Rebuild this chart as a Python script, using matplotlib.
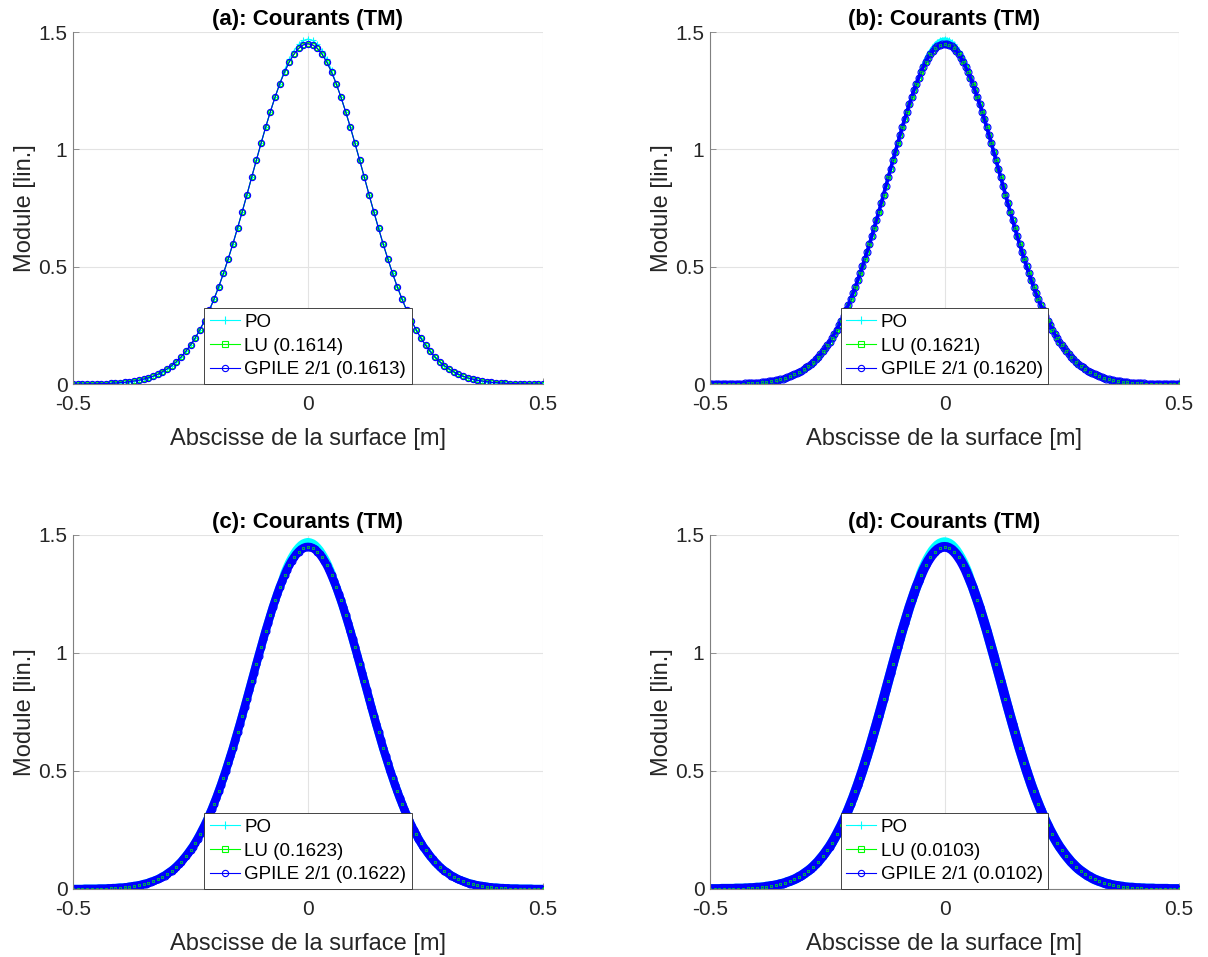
import numpy as np
import matplotlib.pyplot as plt
from matplotlib.lines import Line2D

plt.rcParams['font.family'] = ['Liberation Sans', 'DejaVu Sans']

# demi-profil du module (x = 0 .. 0.5 m, pas 0.005)
sol_half = [1.450, 1.449, 1.445, 1.439, 1.430, 1.419, 1.405, 1.390, 1.372, 1.352,
            1.329, 1.305, 1.280, 1.252, 1.223, 1.193, 1.161, 1.128, 1.095, 1.060,
            1.025, 0.989, 0.953, 0.916, 0.880, 0.843, 0.806, 0.770, 0.734, 0.699,
            0.664, 0.630, 0.596, 0.564, 0.532, 0.501, 0.471, 0.442, 0.414, 0.387,
            0.362, 0.337, 0.314, 0.291, 0.270, 0.250, 0.231, 0.213, 0.196, 0.180,
            0.166, 0.152, 0.139, 0.127, 0.115, 0.105, 0.095, 0.086, 0.078, 0.071,
            0.064, 0.057, 0.052, 0.046, 0.041, 0.037, 0.033, 0.030, 0.026, 0.023,
            0.021, 0.018, 0.016, 0.014, 0.013, 0.011, 0.010, 0.008, 0.007, 0.006,
            0.006, 0.005, 0.004, 0.004, 0.003, 0.003, 0.002, 0.002, 0.002, 0.002,
            0.001, 0.001, 0.001, 0.001, 0.001, 0.001, 0.000, 0.000, 0.000, 0.000, 0.000]
# PO un peu plus haut au sommet
po_top = [1.470, 1.468, 1.464, 1.457, 1.447, 1.435, 1.420, 1.403, 1.384, 1.362, 1.338]
po_half = po_top + sol_half[len(po_top):]

titres = ['(a): Courants (TM)', '(b): Courants (TM)', '(c): Courants (TM)', '(d): Courants (TM)']
err_lu = ['0.1614', '0.1621', '0.1623', '0.0103']
err_gp = ['0.1613', '0.1620', '0.1622', '0.0102']
pas = [2, 1, 1, 1]             # (a) moins de points
epais = [0.0, 2.5, 6.0, 7.0]   # bande pleine pour les maillages fins
taille_o = [4.5, 5.0, 5.0, 5.0]

x_all = np.linspace(-0.5, 0.5, 2 * len(sol_half) - 1)
po_all = np.array(po_half[::-1] + po_half[1:])
sol_all = np.array(sol_half[::-1] + sol_half[1:])

fig = plt.figure(figsize=(12.08, 9.57), dpi=100)
W, H = 1208, 957
boites = [(73, 32, 543, 384), (710, 32, 1179, 384),
          (73, 535, 543, 889), (710, 535, 1179, 889)]
txt = '#262626'
cyan, vert, bleu = '#00ffff', '#00ff00', '#0000ff'

for i, (l, t, r, b) in enumerate(boites):
    ax = fig.add_axes([l / W, 1 - b / H, (r - l) / W, (b - t) / H])
    s = pas[i]
    x = x_all[::s]
    ax.plot(x, po_all[::s], color=cyan, marker='+', ms=5, mew=0.8, lw=0.8)
    if epais[i] > 0:
        ax.plot(x, po_all[::s], color=cyan, lw=epais[i], solid_capstyle='round')
    ax.plot(x, sol_all[::s], color=vert, marker='s', ms=3.5, mew=0.8,
            mfc='none', lw=0.8)
    if epais[i] > 0:
        ax.plot(x, sol_all[::s], color=bleu, lw=epais[i], solid_capstyle='round')
    ax.plot(x, sol_all[::s], color=bleu, marker='o', ms=taille_o[i], mew=0.8,
            mfc='none', lw=0.8)
    if epais[i] > 0:
        ax.plot(x, sol_all[::s], color=vert, lw=0, marker='s', ms=1.5,
                mew=0.5, mfc='none', markevery=2)

    ax.set_xlim(-0.5, 0.5)
    ax.set_ylim(0, 1.5)
    ax.set_xticks([-0.5, 0, 0.5])
    ax.set_xticklabels(['-0.5', '0', '0.5'])
    ax.set_yticks([0, 0.5, 1, 1.5])
    ax.set_yticklabels(['0', '0.5', '1', '1.5'])
    ax.tick_params(direction='in', length=4, width=0.6, colors='#808080',
                   labelcolor=txt, labelsize=15)
    ax.tick_params(axis='x', pad=8)
    ax.tick_params(axis='y', pad=4)
    for sp in ['top', 'right']:
        ax.spines[sp].set_visible(False)
    for sp in ['left', 'bottom']:
        ax.spines[sp].set_color('#808080')
        ax.spines[sp].set_linewidth(0.8)
    ax.grid(True, color='#e3e3e3', lw=0.8)
    ax.set_axisbelow(True)

    ax.set_title(titres[i], fontsize=16, fontweight='bold', color='black', pad=5)
    ax.set_xlabel('Abscisse de la surface [m]', fontsize=17, color=txt, labelpad=10)
    ax.set_ylabel('Module [lin.]', fontsize=17, color=txt, labelpad=2)

    poignees = [
        Line2D([], [], color=cyan, marker='+', ms=6, mew=0.8, lw=0.8),
        Line2D([], [], color=vert, marker='s', ms=4, mew=0.8, mfc='none', lw=0.8),
        Line2D([], [], color=bleu, marker='o', ms=4.5, mew=0.8, mfc='none', lw=0.8),
    ]
    noms = ['PO', 'LU (%s)' % err_lu[i], 'GPILE 2/1 (%s)' % err_gp[i]]
    leg = ax.legend(poignees, noms, loc='lower center', fontsize=13.5,
                    frameon=True, fancybox=False, borderaxespad=0,
                    handlelength=1.6, handletextpad=0.25, labelspacing=0.35,
                    borderpad=0.3, framealpha=1)
    leg.get_frame().set_edgecolor('#262626')
    leg.get_frame().set_linewidth(0.6)
    for tx in leg.get_texts():
        tx.set_color('black')

fig.savefig('out.png', dpi=100)
